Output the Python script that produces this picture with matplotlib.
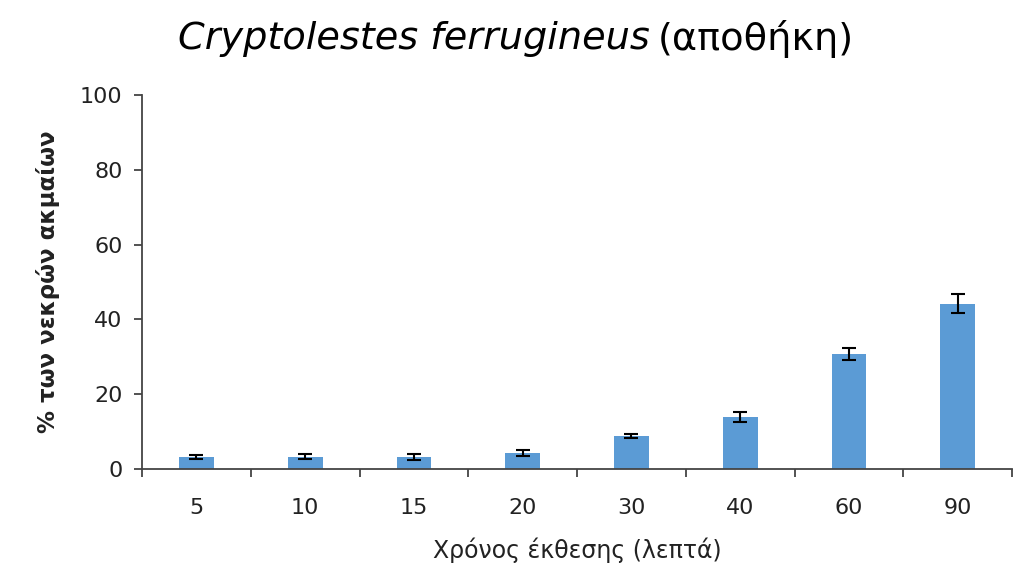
import matplotlib.pyplot as plt
import numpy as np

# exposure time (minutes) and % dead adults
times = ["5", "10", "15", "20", "30", "40", "60", "90"]
mortality = [3.2, 3.3, 3.2, 4.3, 8.8, 14.0, 30.8, 44.2]
errors = [0.6, 0.6, 0.8, 0.7, 0.6, 1.3, 1.6, 2.6]

plt.rcParams["font.family"] = ["DejaVu Sans"]

fig = plt.figure(figsize=(10.25, 5.73), dpi=100)
ax = fig.add_axes([0.1385, 0.1815, 0.849, 0.6525])

x = np.arange(len(times))
ax.bar(x, mortality, width=0.32, color="#5B9BD5", zorder=2)
ax.errorbar(x, mortality, yerr=errors, fmt="none", ecolor="black",
            elinewidth=1.5, capsize=5, capthick=1.5, zorder=3)

ax.set_xlim(-0.5, len(times) - 0.5)
ax.set_ylim(0, 100)
ax.set_yticks(range(0, 101, 20))
ax.set_xticks(x)
ax.set_xticklabels(times)
# category ticks sit between the bars, like Excel
ax.set_xticks(np.arange(-0.5, len(times), 1), minor=True)
ax.tick_params(axis="x", which="major", length=0, labelsize=16, pad=21, colors="#222222")
ax.tick_params(axis="x", which="minor", length=6, width=1.3, color="#444444", direction="out")
ax.tick_params(axis="y", length=6, width=1.3, color="#444444", labelsize=16, pad=8,
               labelcolor="#222222")

for side in ["top", "right"]:
    ax.spines[side].set_visible(False)
for side in ["left", "bottom"]:
    ax.spines[side].set_linewidth(1.3)
    ax.spines[side].set_color("#444444")

ax.set_ylabel("% των νεκρών ακμαίων", fontsize=16.5, fontweight="bold", labelpad=14,
              color="#222222")
ax.set_xlabel("Χρόνος έκθεσης (λεπτά)", fontsize=17, labelpad=14, color="#222222")

# title: italic species name + upright Greek
fig.text(0.634, 0.932, "Cryptolestes ferrugineus", fontsize=27.5, style="italic",
         ha="right", va="center")
fig.text(0.642, 0.932, "(αποθήκη)", fontsize=27.5, ha="left", va="center")

fig.savefig("out.png", dpi=100)
